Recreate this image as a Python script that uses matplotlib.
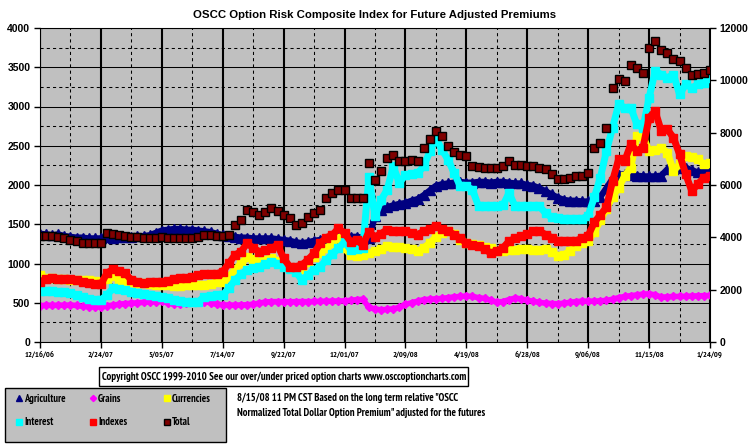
import matplotlib
matplotlib.use('Agg')
import numpy as np
import pandas as pd
import matplotlib.pyplot as plt
from matplotlib import font_manager
from matplotlib.patches import Rectangle

########################################

# Weekly readings, 12/16/06 .. 1/24/09 (111 weeks)

dates = pd.date_range('2006-12-16', periods=111, freq='7D')

tick_labels = ['12/16/06', '2/24/07', '5/05/07', '7/14/07', '9/22/07', '12/01/07',
               '2/09/08', '4/19/08', '6/28/08', '9/06/08', '11/15/08', '1/24/09']

agriculture = [1380, 1370, 1360, 1370, 1350, 1340, 1330, 1330, 1320, 1320,
               1320, 1340, 1330, 1340, 1340, 1340, 1350, 1350, 1360, 1390,
               1420, 1430, 1440, 1440, 1430, 1430, 1420, 1410, 1400, 1380,
               1360, 1350, 1340, 1330, 1330, 1320, 1320, 1320, 1320, 1310,
               1300, 1290, 1270, 1260, 1270, 1290, 1300, 1310, 1320, 1320,
               1330, 1340, 1340, 1330, 1320, 1600, 1680, 1720, 1740, 1760,
               1770, 1800, 1820, 1870, 1930, 1990, 2010, 2020, 2030, 2040,
               2030, 2030, 2040, 2040, 2030, 2040, 2040, 2030, 2020, 2020,
               2000, 1990, 1960, 1920, 1880, 1840, 1810, 1800, 1800, 1790,
               1790, 1800, 1850, 1960, 2080, 2130, 2140, 2130, 2120, 2110,
               2110, 2110, 2120, 2200, 2210, 2220, 2220, 2190, 2160, 2170, 2180]

grains = [460, 470, 465, 470, 468, 471, 465, 455, 450, 448,
          450, 460, 470, 480, 490, 493, 500, 505, 510, 514,
          518, 500, 480, 485, 500, 505, 510, 514, 500, 480,
          475, 470, 470, 471, 475, 480, 495, 510, 514, 515,
          514, 512, 514, 515, 514, 516, 518, 520, 522, 522,
          525, 530, 540, 544, 440, 420, 410, 415, 424, 440,
          480, 500, 520, 540, 545, 550, 555, 565, 575, 580,
          585, 580, 565, 555, 530, 508, 515, 540, 560, 550,
          530, 520, 505, 495, 490, 487, 495, 505, 515, 520,
          521, 520, 525, 529, 545, 565, 580, 590, 600, 610,
          614, 600, 571, 575, 580, 580, 582, 585, 588, 590, 593]

currencies = [850, 820, 810, 805, 800, 790, 785, 790, 795, 780,
              770, 800, 840, 790, 770, 760, 755, 750, 740, 730,
              725, 720, 715, 715, 720, 720, 725, 730, 740, 760,
              770, 830, 920, 1002, 1080, 1060, 1023, 1040, 1066, 1030,
              970, 940, 917, 930, 1023, 1080, 1130, 1193, 1260, 1321,
              1200, 1108, 1100, 1108, 1130, 1160, 1180, 1220, 1210, 1205,
              1199, 1180, 1157, 1200, 1260, 1340, 1390, 1420, 1380, 1300,
              1260, 1250, 1230, 1210, 1199, 1160, 1160, 1170, 1178, 1180,
              1180, 1178, 1175, 1180, 1150, 1100, 1110, 1160, 1228, 1260,
              1291, 1400, 1550, 1700, 1850, 1968, 2116, 2222, 2624, 2620,
              2434, 2440, 2476, 2413, 2180, 2265, 2370, 2360, 2328, 2265, 2286]

interest = [650, 645, 645, 641, 635, 620, 600, 570, 550, 540,
            535, 600, 684, 670, 663, 640, 620, 610, 600, 590,
            578, 560, 540, 520, 514, 510, 514, 578, 590, 595,
            599, 684, 790, 860, 917, 940, 960, 990, 1023, 1000,
            960, 930, 896, 790, 854, 920, 960, 1045, 1120, 1193,
            1278, 1172, 1180, 1193, 2106, 1600, 1813, 1940, 2237, 2025,
            2131, 2140, 2152, 2237, 2428, 2597, 2449, 2322, 2152, 1983,
            1983, 1940, 1729, 1729, 1729, 1737, 1740, 1898, 1729, 1729,
            1729, 1729, 1729, 1640, 1590, 1580, 1566, 1566, 1566, 1570,
            1608, 1841, 2095, 2434, 2730, 3027, 2984, 2984, 2773, 2730,
            3111, 3450, 3407, 3365, 3407, 3154, 3281, 3238, 3281, 3300, 3365]

indexes = [769, 800, 811, 805, 800, 798, 790, 770, 750, 745,
           735, 880, 926, 900, 875, 790, 770, 756, 760, 765,
           769, 780, 800, 811, 820, 832, 850, 870, 865, 870,
           896, 1002, 1108, 1151, 1257, 1200, 1151, 1170, 1193, 1236,
           1066, 960, 960, 981, 1050, 1130, 1257, 1330, 1363, 1448,
           1385, 1278, 1300, 1236, 1406, 1340, 1380, 1432, 1420, 1411,
           1411, 1390, 1369, 1411, 1440, 1474, 1440, 1411, 1369, 1320,
           1263, 1240, 1220, 1180, 1136, 1160, 1199, 1284, 1320, 1347,
           1370, 1411, 1411, 1369, 1330, 1291, 1291, 1291, 1291, 1320,
           1355, 1524, 1620, 1714, 2053, 2328, 2307, 2519, 2434, 2476,
           2857, 2942, 2688, 2709, 2603, 2392, 2138, 1926, 2011, 2095, 2116]

# right axis units
total = [4050, 4050, 4035, 4026, 3990, 3900, 3870, 3798, 3798, 3798,
         3798, 4155, 4140, 4089, 4050, 4026, 4005, 3990, 3963, 3990,
         4002, 3990, 3963, 3963, 3963, 3990, 4026, 4089, 4080, 4050,
         4065, 4089, 4470, 4662, 5046, 4980, 4854, 4980, 5109, 5010,
         4860, 4728, 4473, 4560, 4791, 4920, 5040, 5490, 5700, 5811,
         5811, 5520, 5490, 5490, 6855, 6192, 6522, 7029, 7155, 6903,
         6930, 6966, 6903, 7410, 7740, 8046, 7854, 7473, 7260, 7140,
         7092, 6711, 6690, 6648, 6648, 6660, 6711, 6903, 6774, 6750,
         6711, 6711, 6660, 6600, 6414, 6222, 6240, 6285, 6330, 6348,
         6477, 7428, 7620, 8190, 9714, 10032, 9969, 10605, 10476, 10287,
         11238, 11493, 11175, 11049, 10800, 10731, 10476, 10221, 10260, 10287, 10413]

########################################

names = {f.name for f in font_manager.fontManager.ttflist}
narrow = 'Liberation Sans'
for cand in ['PT Sans Narrow', 'Liberation Sans Narrow', 'Roboto Condensed', 'Barlow Semi Condensed']:
    if cand in names:
        narrow = cand
        break

plt.rcParams['font.family'] = ['Liberation Sans', 'DejaVu Sans']
plt.rcParams['font.weight'] = 'bold'
plt.rcParams['font.size'] = 7.5

W, H = 755, 446
fig = plt.figure(figsize=(W / 100, H / 100), dpi=100)
renderer = fig.canvas.get_renderer()


def size_for(text, target_px, family, base=8.0):
    # font size that makes `text` about target_px wide
    t = fig.text(0, 0, text, fontfamily=family, fontsize=base, fontweight='bold')
    w = t.get_window_extent(renderer).width
    t.remove()
    return base * target_px / w


ax = fig.add_axes([40 / W, 104 / H, 670 / W, 314 / H])
ax.set_facecolor('#c0c0c0')

tick_dates = pd.to_datetime(tick_labels, format='%m/%d/%y')
minor_dates = tick_dates[:-1] + pd.Timedelta(days=35)

xt_size = size_for('12/16/06', 30, narrow)
ax.set_xlim(dates[0], dates[-1])
ax.set_ylim(0, 4000)
ax.set_xticks(tick_dates)
ax.set_xticklabels(tick_labels, fontfamily=narrow, fontsize=xt_size)
ax.set_xticks(minor_dates, minor=True)
ax.set_yticks(np.arange(0, 4001, 500))
ax.set_yticks(np.arange(250, 4000, 500), minor=True)
ax.tick_params(which='major', length=4, width=1, direction='out', pad=3)
ax.tick_params(axis='x', pad=3)
ax.tick_params(which='minor', length=0)
ax.set_axisbelow(True)
ax.grid(which='major', axis='x', color='k', lw=1.5, ls='-')
ax.grid(which='major', axis='y', color='k', lw=0.75, ls='-')
ax.grid(which='minor', color='k', lw=0.75, ls=(0, (3, 3)))
for s in ax.spines.values():
    s.set_linewidth(0.75)

series = [
    (agriculture, 'Agriculture', '#000080', '^', 6.5, 4.5),
    (grains, 'Grains', '#ff00ff', 'D', 4.5, 4),
    (currencies, 'Currencies', '#ffff00', 's', 5.5, 5),
    (interest, 'Interest', '#00ffff', 's', 5.5, 5),
    (indexes, 'Indexes', '#ff0000', 's', 5.5, 5),
]
handles = []
for vals, name, color, mk, ms, lw in series:
    ax.plot(dates, vals, color=color, lw=lw)
    h, = ax.plot(dates, vals, ls='none', marker=mk, ms=ms, color=color, label=name)
    handles.append(h)

ax2 = ax.twinx()
ax2.set_ylim(0, 12000)
ax2.set_yticks(np.arange(0, 12001, 2000))
ax2.tick_params(length=4, width=1, direction='out', pad=3)
for s in ax2.spines.values():
    s.set_linewidth(0.75)
h, = ax2.plot(dates, total, ls='none', marker='s', ms=5.2, mfc='#800000', mec='k',
              mew=1.0, label='Total')
handles.append(h)

title = 'OSCC Option Risk Composite Index for Future Adjusted Premiums'
fig.text(375 / W, 1 - 15 / H, title, ha='center', va='center',
         fontsize=size_for(title, 365, 'Liberation Sans'))

# copyright box
copy_txt = 'Copyright OSCC 1999-2010 See our over/under priced option charts www.osccoptioncharts.com'
fig.add_artist(Rectangle((99 / W, (H - 386) / H), 369 / W, 19 / H, transform=fig.transFigure,
                         fc='white', ec='k', lw=1))
fig.text(284 / W, 1 - 376.5 / H, copy_txt, ha='center', va='center', fontfamily=narrow,
         fontsize=size_for(copy_txt, 363, narrow))

# legend panel
fig.add_artist(Rectangle((5 / W, 4 / H), 221 / W, 54 / H, transform=fig.transFigure,
                         fc='#c0c0c0', ec='k', lw=1))
leg_size = size_for('Agriculture', 42, narrow)
em = leg_size * 100 / 72
for col, x in enumerate([19, 93, 167]):
    fig.legend(handles=[handles[col], handles[col + 3]], loc='upper left',
               bbox_to_anchor=((x - 3) / W, 1 - 394 / H), frameon=False, borderpad=0,
               borderaxespad=0, handlelength=6 / em, handletextpad=2 / em,
               labelspacing=(26 - 1.2 * em) / em, markerscale=0.7,
               prop={'family': narrow, 'size': leg_size, 'weight': 'bold'})

line1 = '8/15/08 11 PM CST Based on the long term relative "OSCC'
line2 = 'Normalized Total Dollar Option Premium" adjusted for the futures'
note_size = size_for(line2, 248, narrow)
fig.text(237 / W, 1 - 398 / H, line1, ha='left', va='center', fontfamily=narrow, fontsize=note_size)
fig.text(237 / W, 1 - 413 / H, line2, ha='left', va='center', fontfamily=narrow, fontsize=note_size)

fig.savefig('out.png', dpi=100)
